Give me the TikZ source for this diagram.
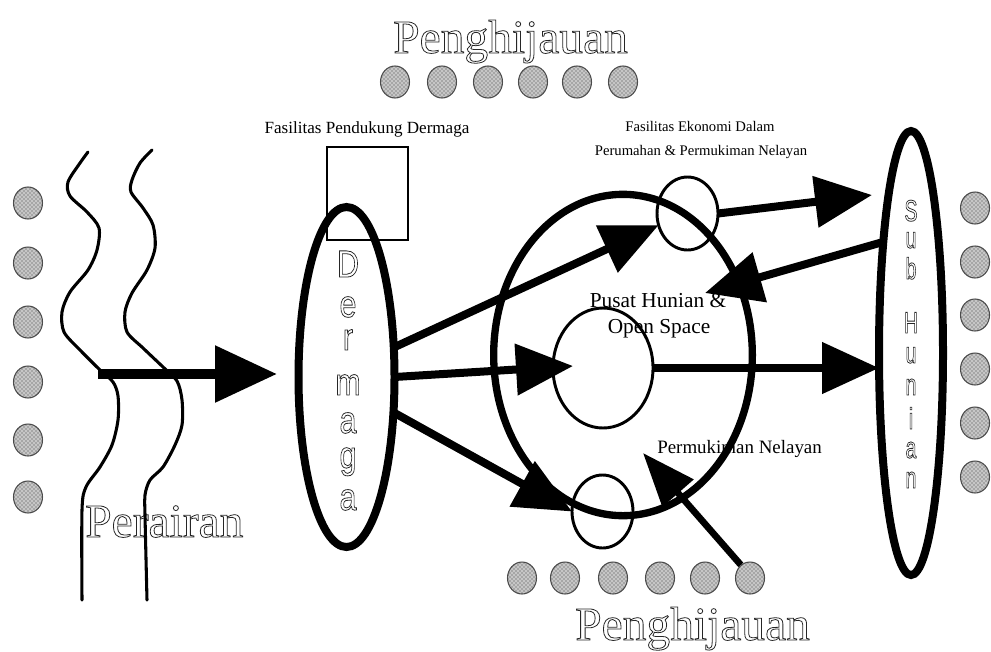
\documentclass[tikz,border=0pt]{standalone}
\usepackage{graphicx}
\usepackage{fontspec}
\setmainfont{Liberation Serif}
\newfontfamily\outsans{Liberation Sans}
\usetikzlibrary{shapes.geometric,arrows.meta,patterns}
\newcommand{\outl}[1]{\special{pdf:literal direct 1 Tr 0.6 w 0.15 G}#1\special{pdf:literal direct 0 Tr 0 G}}
\tikzset{
  thickell/.style={draw, ellipse, line width=6pt, inner sep=0pt, outer sep=0pt},
  thinell/.style={draw, ellipse, line width=2.2pt, inner sep=0pt, outer sep=0pt},
  arr/.style={line width=6pt, -{Triangle[length=42.75pt,width=37.5pt]}},
  dotn/.style={ellipse, draw=black!70, fill=gray!45, line width=0.8pt, minimum width=21.75pt, minimum height=24pt, inner sep=0pt,
    postaction={pattern=crosshatch dots, pattern color=black!75}},
  wave/.style={line width=2.3pt, line join=round, line cap=round},
  bigtxt/.style={font=\fontsize{35.6}{40}\selectfont, inner sep=0pt, anchor=base west},
  dlet/.style={font=\outsans\fontsize{28.5}{30}\selectfont, inner sep=0pt, anchor=base},
  slet/.style={font=\outsans\fontsize{22.5}{24}\selectfont, inner sep=0pt, anchor=base},
  lbl/.style={inner sep=0pt, anchor=base}
}
\begin{document}
\begin{tikzpicture}[x=0.75pt,y=-0.75pt]
\useasboundingbox (0,0) rectangle (991,651);

% greenery dots
\foreach \x [count=\i] in {395,442,488,533,577,623} \node[dotn] (t\i) at (\x,82) {};
\foreach \y [count=\i] in {203,263,322,382,440,497} \node[dotn] (l\i) at (28,\y) {};
\foreach \y [count=\i] in {208,262,315,369,423,477} \node[dotn] (r\i) at (975,\y) {};
\foreach \x [count=\i] in {522,565,613,660,705,750} \node[dotn] (b\i) at (\x,578) {};

% big outlined words
\node[bigtxt] (peng1) at (393,53) {\outl{Penghijauan}};
\node[bigtxt] (peng2) at (575,640) {\outl{Penghijauan}};
\node[bigtxt] (perairan) at (85,537) {\outl{Perairan}};

% water lines
\draw[wave] plot[smooth, tension=0.5] coordinates {(88,152) (80,163) (68,182) (70,196) (87,212) (99,228) (97,250) (88,270) (70,292) (62,312) (64,332) (80,350) (100,370) (113,382) (118,396) (118,420) (112,445) (100,467) (86,487) (82,510) (82,600)};
\draw[wave] plot[smooth, tension=0.5] coordinates {(152,150) (140,163) (132,180) (131,192) (143,208) (153,225) (155,248) (147,270) (132,293) (125,312) (127,332) (143,348) (163,367) (177,381) (182,400) (182,425) (175,445) (163,467) (150,480) (145,495) (145,515) (147,600)};

% labels
\node[lbl, font=\fontsize{12.8}{14}\selectfont] (lfas) at (367,133) {Fasilitas Pendukung Dermaga};
\node[lbl, font=\fontsize{11}{13}\selectfont] (leko1) at (700,131) {Fasilitas Ekonomi Dalam};
\node[lbl, font=\fontsize{11}{13}\selectfont] (leko2) at (701,155) {Perumahan \& Permukiman Nelayan};
\node[lbl, font=\fontsize{16}{18}\selectfont] (lpus1) at (658,307) {Pusat Hunian \&};
\node[lbl, font=\fontsize{16}{18}\selectfont] (lpus2) at (659,333) {Open Space};
\node[lbl, anchor=base west, font=\fontsize{14.2}{16}\selectfont] (lperm) at (657,453) {Permukiman Nelayan};

% shapes
\node[draw, line width=2.2pt, minimum width=60.75pt, minimum height=69.75pt, inner sep=0pt, outer sep=0pt] (box) at (367.5,193.5) {};
\node[thickell, minimum width=72pt, minimum height=255pt] (dermaga) at (346.5,377) {};
\node[thickell, line width=5.5pt, minimum width=194pt, minimum height=241pt] (big) at (623,355) {};
\node[thinell, minimum width=75pt, minimum height=90pt] (inner) at (603,368) {};
\node[thinell, minimum width=45.75pt, minimum height=54.75pt] (topc) at (687.5,213.5) {};
\node[thinell, minimum width=45.75pt, minimum height=54.75pt] (botc) at (602.5,511.5) {};
\node[thickell, minimum width=48pt, minimum height=333pt] (sub) at (911,353) {};

% vertical letters
\node[dlet] (d1) at (348,277) {\scalebox{0.8}[1]{\outl{D}}};
\node[dlet] (d2) at (348,317) {\scalebox{0.8}[1]{\outl{e}}};
\node[dlet] (d3) at (348,350) {\scalebox{0.8}[1]{\outl{r}}};
\node[dlet] (d4) at (348,395) {\scalebox{0.8}[1]{\outl{m}}};
\node[dlet] (d5) at (348,433) {\scalebox{0.8}[1]{\outl{a}}};
\node[dlet] (d6) at (348,468) {\scalebox{0.8}[1]{\outl{g}}};
\node[dlet] (d7) at (348,510) {\scalebox{0.8}[1]{\outl{a}}};

\node[slet] (s1) at (911,221) {\scalebox{0.65}[1]{\outl{S}}};
\node[slet] (s2) at (911,248) {\scalebox{0.65}[1]{\outl{u}}};
\node[slet] (s3) at (911,279) {\scalebox{0.65}[1]{\outl{b}}};
\node[slet] (s4) at (911,333) {\scalebox{0.65}[1]{\outl{H}}};
\node[slet] (s5) at (911,363) {\scalebox{0.65}[1]{\outl{u}}};
\node[slet] (s6) at (911,395) {\scalebox{0.65}[1]{\outl{n}}};
\node[slet] (s7) at (911,429) {\scalebox{0.65}[1]{\outl{i}}};
\node[slet] (s8) at (911,458) {\scalebox{0.65}[1]{\outl{a}}};
\node[slet] (s9) at (911,488) {\scalebox{0.65}[1]{\outl{n}}};

% arrow end points
\coordinate (w0) at (98,374);
\coordinate (w1) at (277,374);
\coordinate (a2e) at (573,366);
\coordinate (a4e) at (872,195);
\coordinate (a5e) at (705,293);
\coordinate (a7e) at (643,453);

% arrows
\draw[arr, line width=7.5pt, -{Triangle[length=46.5pt,width=41pt]}] (w0) -- (w1);
\draw[arr] (dermaga.32) -- (topc.202);
\draw[arr] (dermaga.east) -- (a2e);
\draw[arr] (dermaga.-37) -- (botc.west);
\draw[arr] (topc.east) -- (a4e);
\draw[arr] (sub.104) -- (a5e);
\draw[arr] (inner.east) -- (inner.east -| sub.west);
\draw[arr, line width=5pt, -{Triangle[length=40pt,width=30pt]}] (b6.125) -- (a7e);
\end{tikzpicture}
\end{document}
